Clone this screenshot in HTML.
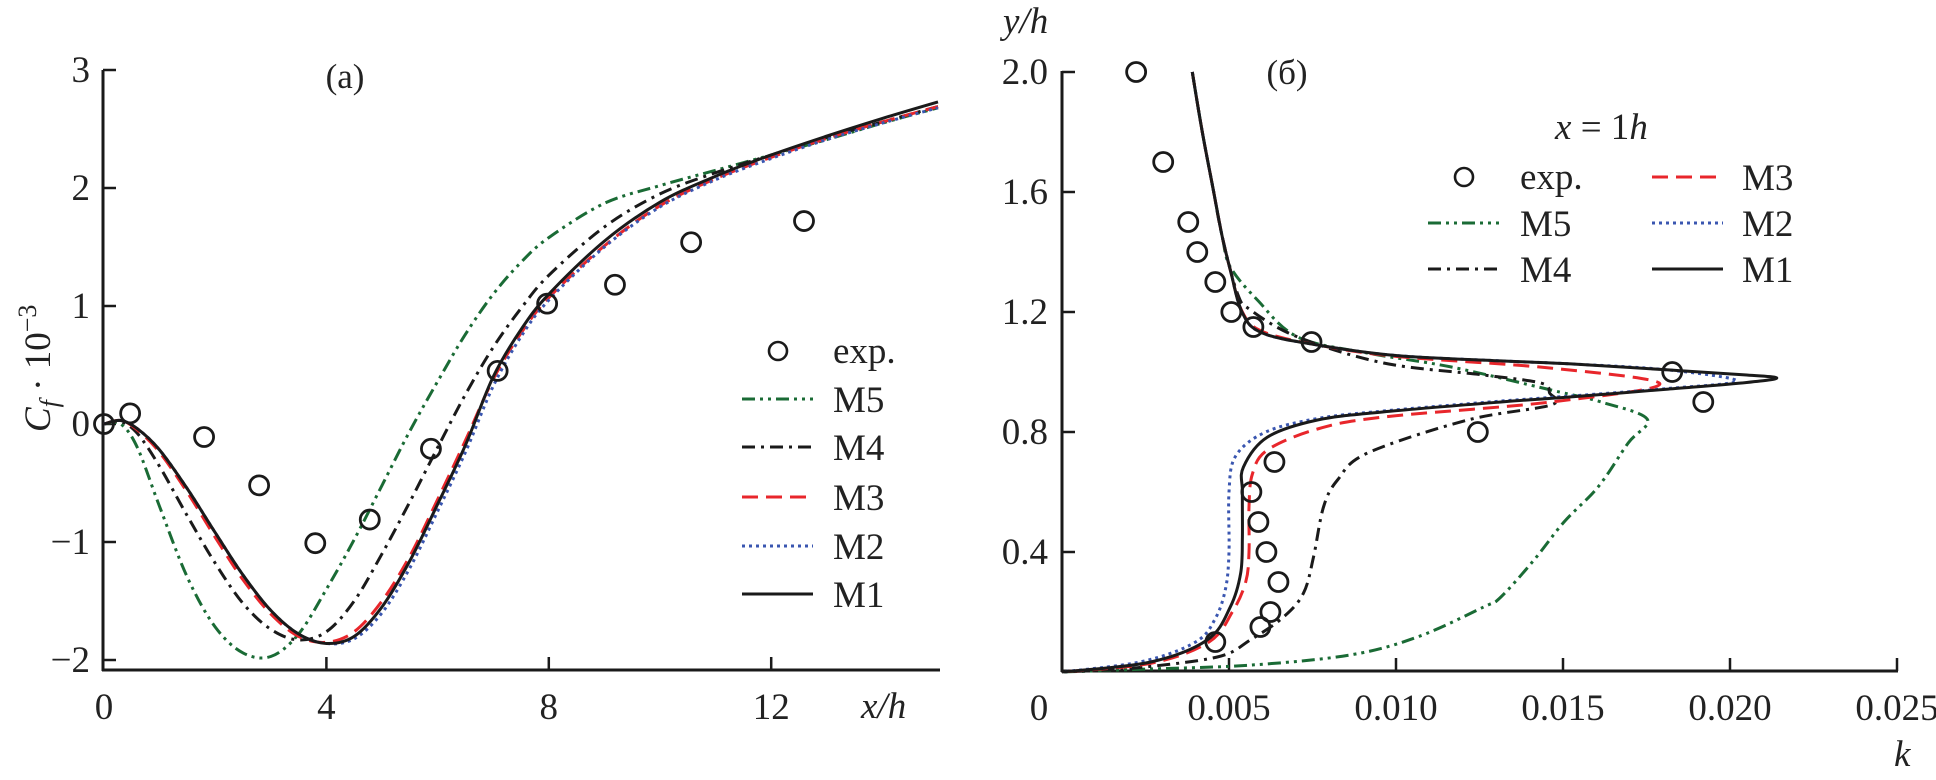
<!DOCTYPE html>
<html><head><meta charset="utf-8"><style>
body{margin:0;background:#fff;}
svg{display:block;font-family:"Liberation Serif",serif;}
text{fill:#222;}
</style></head><body>
<svg id="fig" width="1936" height="780" viewBox="0 0 1936 780">
<g id="left"></g>
<g id="right"></g>
</svg>
<script>
// ---- Left chart data ----
const leftX = [0,0.3,0.6,1,1.5,2,2.5,3,3.5,4,4.5,5,5.5,6,6.5,7,7.5,8,9,10,11,12,13,14,15];
const leftM1 = [0,0.03,-0.04,-0.22,-0.55,-0.92,-1.28,-1.58,-1.78,-1.86,-1.8,-1.55,-1.16,-0.68,-0.18,0.4,0.8,1.1,1.55,1.88,2.1,2.28,2.44,2.59,2.73];
const leftM2 = [0,0.03,-0.04,-0.22,-0.55,-0.92,-1.28,-1.58,-1.78,-1.86,-1.82,-1.6,-1.22,-0.74,-0.24,0.32,0.74,1.05,1.5,1.84,2.07,2.25,2.41,2.55,2.68];
const leftM3 = [0,0.03,-0.05,-0.24,-0.58,-0.96,-1.32,-1.61,-1.8,-1.85,-1.76,-1.5,-1.12,-0.64,-0.14,0.38,0.77,1.07,1.51,1.85,2.08,2.26,2.42,2.56,2.69];
const leftM4 = [0,0.02,-0.08,-0.36,-0.78,-1.18,-1.52,-1.74,-1.83,-1.76,-1.5,-1.1,-0.66,-0.2,0.25,0.65,0.98,1.26,1.67,1.95,2.13,2.28,2.43,2.56,2.69];
const leftM5 = [0,0.0,-0.2,-0.7,-1.3,-1.72,-1.94,-1.97,-1.78,-1.4,-0.98,-0.52,-0.06,0.36,0.76,1.1,1.37,1.58,1.87,2.02,2.15,2.28,2.41,2.55,2.68];
const leftExpX = [0,0.47,1.8,2.79,3.8,4.78,5.88,7.08,7.97,9.19,10.56,12.59];
const leftExpY = [0,0.09,-0.11,-0.52,-1.01,-0.81,-0.21,0.45,1.02,1.18,1.54,1.72];
const leftXTicks = [0,4,8,12];
const leftYTicks = [-2,-1,0,1,2,3];
const leftYTickLabels = ["\u22122","\u22121","0","1","2","3"];

// ---- Right chart data ----
const m1K = [0.0039,0.0042,0.00453,0.0048,0.00504,0.0054,0.006,0.00765,0.01,0.01314,0.01524,0.01815,0.0205,0.0214,0.0205,0.01815,0.01524,0.01314,0.00963,0.00765,0.00615,0.00543,0.0054,0.0054,0.00535,0.00504,0.00435,0.00264,0.0];
const m1Y = [2.0,1.8,1.607,1.45,1.34,1.197,1.13,1.09,1.055,1.037,1.027,1.007,0.99,0.98,0.965,0.943,0.917,0.9,0.867,0.84,0.783,0.683,0.6,0.45,0.33,0.217,0.107,0.033,0.0];
const m2K = [0.0039,0.0042,0.00453,0.0048,0.00504,0.0054,0.006,0.00765,0.01,0.01314,0.01524,0.01815,0.0202,0.01815,0.01524,0.01314,0.00963,0.00765,0.0061,0.0052,0.0050,0.0050,0.0049,0.0046,0.004,0.0024,0.0];
const m2Y = [2.0,1.8,1.607,1.45,1.34,1.197,1.13,1.09,1.055,1.037,1.027,1.007,0.97,0.945,0.92,0.903,0.87,0.845,0.8,0.72,0.6,0.4,0.28,0.18,0.1,0.035,0.0];
const m3K = [0.0039,0.0042,0.00453,0.0048,0.00504,0.0054,0.006,0.00765,0.01,0.01464,0.0179,0.01464,0.00963,0.00765,0.00615,0.0057,0.0056,0.0056,0.0055,0.0051,0.0044,0.0027,0.0];
const m3Y = [2.0,1.8,1.607,1.45,1.34,1.2,1.135,1.09,1.052,1.013,0.96,0.9,0.85,0.81,0.74,0.66,0.55,0.4,0.3,0.2,0.1,0.03,0.0];
const m4K = [0.0039,0.0042,0.00453,0.0048,0.00525,0.00564,0.00705,0.00963,0.01263,0.01434,0.0146,0.01464,0.01215,0.00915,0.00825,0.00783,0.00753,0.00723,0.00663,0.00564,0.00465,0.00213,0.0];
const m4Y = [2.0,1.8,1.607,1.45,1.263,1.207,1.117,1.03,0.99,0.963,0.93,0.89,0.84,0.73,0.64,0.55,0.383,0.263,0.183,0.107,0.05,0.013,0.0];
const m5K = [0.0039,0.0042,0.00453,0.0048,0.00504,0.00585,0.00705,0.00915,0.01164,0.01464,0.01614,0.01752,0.01695,0.01605,0.01503,0.01413,0.01314,0.01263,0.01065,0.00864,0.00564,0.0026,0.0];
const m5Y = [2.0,1.8,1.607,1.45,1.35,1.24,1.117,1.063,1.017,0.94,0.9,0.843,0.763,0.617,0.5,0.373,0.25,0.217,0.117,0.057,0.023,0.01,0.0];
const rightExpK = [0.00222,0.00303,0.00378,0.00405,0.00459,0.00507,0.00573,0.00747,0.01827,0.0192,0.01245,0.00636,0.00567,0.00588,0.00612,0.00648,0.00624,0.00594,0.00459];
const rightExpY = [2.0,1.7,1.5,1.4,1.3,1.2,1.15,1.1,1.0,0.9,0.8,0.7,0.6,0.5,0.4,0.3,0.2,0.15,0.1];
const rightKTicks = [0,0.005,0.010,0.015,0.020,0.025];
const rightKTickLabels = ["0","0.005","0.010","0.015","0.020","0.025"];
const rightYTicks = [0.4,0.8,1.2,1.6,2.0];
const rightYTickLabels = ["0.4","0.8","1.2","1.6","2.0"];

const NS = "http://www.w3.org/2000/svg";
function mk(parent, tag, attrs, txt){
  const e = document.createElementNS(NS, tag);
  for (const k in attrs) e.setAttribute(k, attrs[k]);
  if (txt !== undefined) e.textContent = txt;
  parent.appendChild(e);
  return e;
}
function smoothPath(pts){
  let d = "M" + pts[0][0].toFixed(1) + "," + pts[0][1].toFixed(1);
  for (let i=0;i<pts.length-1;i++){
    const p0 = pts[i-1]||pts[i], p1=pts[i], p2=pts[i+1], p3=pts[i+2]||pts[i+1];
    const c1x = p1[0]+(p2[0]-p0[0])/6, c1y = p1[1]+(p2[1]-p0[1])/6;
    const c2x = p2[0]-(p3[0]-p1[0])/6, c2y = p2[1]-(p3[1]-p1[1])/6;
    d += " C"+c1x.toFixed(1)+","+c1y.toFixed(1)+" "+c2x.toFixed(1)+","+c2y.toFixed(1)+" "+p2[0].toFixed(1)+","+p2[1].toFixed(1);
  }
  return d;
}
const styles = {
  M1:{stroke:"#1a1a1a",dash:""},
  M2:{stroke:"#3a56b0",dash:"3,4"},
  M3:{stroke:"#e8262b",dash:"16,8"},
  M4:{stroke:"#1a1a1a",dash:"13,6,3,6"},
  M5:{stroke:"#1a6b35",dash:"13,5,3,5,3,5"}
};

// ---- Left axes ----
const L = document.getElementById('left');
const lx = v => 104 + 55.6*v;
const ly = v => 424 - 118*v;
let e;
e = mk(L,'line',{x1:103,y1:70,x2:103,y2:671,stroke:'#1a1a1a','stroke-width':3});
 
e = mk(L,'line',{x1:102,y1:670,x2:940,y2:670,stroke:'#1a1a1a','stroke-width':3});
 
leftYTicks.forEach((t,i)=>{
  e = mk(L,'line',{x1:103,y1:ly(t),x2:116,y2:ly(t),stroke:'#1a1a1a','stroke-width':2.5});
   
  e = mk(L,'text',{x:90,y:ly(t)+12,'font-size':37,'text-anchor':'end'},leftYTickLabels[i]);
   
});
leftXTicks.forEach(t=>{
  if (t>0){
    e = mk(L,'line',{x1:lx(t),y1:670,x2:lx(t),y2:657,stroke:'#1a1a1a','stroke-width':2.5});
     
  }
  e = mk(L,'text',{x:lx(t),y:719,'font-size':37,'text-anchor':'middle'},String(t));
   
});
e = mk(L,'text',{x:861,y:718,'font-size':37,'font-style':'italic'},'x/h');
 
e = mk(L,'text',{x:345,y:88,'font-size':35,'text-anchor':'middle'},'(a)');
 
e = mk(L,'text',{x:0,y:0,'font-size':37,transform:'translate(50,432) rotate(-90)'});
 
e.innerHTML = '<tspan font-style="italic">C</tspan><tspan font-style="italic" font-size="26" dy="8">f</tspan><tspan dy="-8"> · 10</tspan><tspan font-size="26" dy="-14">\u22123</tspan>';

const leftSeries = [["M5",leftM5],["M4",leftM4],["M3",leftM3],["M2",leftM2],["M1",leftM1]];
leftSeries.forEach(([n,vals])=>{
  const pts = leftX.map((x,i)=>[lx(x),ly(vals[i])]);
  e = mk(L,'path',{d:smoothPath(pts),fill:'none',stroke:styles[n].stroke,'stroke-width':3,'stroke-dasharray':styles[n].dash});
   
});
leftExpX.forEach((x,i)=>{
  e = mk(L,'circle',{cx:lx(x),cy:ly(leftExpY[i]),r:9.5,fill:'none',stroke:'#1a1a1a','stroke-width':2.8});
   
});
// left legend
e = mk(L,'circle',{cx:778,cy:351,r:9,fill:'none',stroke:'#1a1a1a','stroke-width':2.6});
 
e = mk(L,'text',{x:833,y:363,'font-size':37},'exp.');
 
[["M5",399],["M4",447],["M3",497],["M2",546],["M1",594]].forEach(([n,y])=>{
  e = mk(L,'line',{x1:742,y1:y,x2:813,y2:y,stroke:styles[n].stroke,'stroke-width':3,'stroke-dasharray':styles[n].dash});
   
  e = mk(L,'text',{x:833,y:y+13,'font-size':37},n);
   
});

// ---- Right axes ----
const R = document.getElementById('right');
const rx = v => 1062 + 33400*v;
const ry = v => 672 - 300*v;
e = mk(R,'line',{x1:1062,y1:71,x2:1062,y2:672,stroke:'#1a1a1a','stroke-width':3});
 
e = mk(R,'line',{x1:1061,y1:671,x2:1898,y2:671,stroke:'#1a1a1a','stroke-width':3});
 
rightYTicks.forEach((t,i)=>{
  e = mk(R,'line',{x1:1062,y1:ry(t),x2:1075,y2:ry(t),stroke:'#1a1a1a','stroke-width':2.5});
   
  e = mk(R,'text',{x:1048,y:ry(t)+12,'font-size':37,'text-anchor':'end'},rightYTickLabels[i]);
   
});
rightKTicks.forEach((t,i)=>{
  if (t>0){
    e = mk(R,'line',{x1:rx(t),y1:671,x2:rx(t),y2:658,stroke:'#1a1a1a','stroke-width':2.5});
     
  }
  e = mk(R,'text',{x:i===0?1039:rx(t),y:720,'font-size':37,'text-anchor':'middle'},rightKTickLabels[i]);
   
});
e = mk(R,'text',{x:1894,y:766,'font-size':37,'font-style':'italic'},'k');
 
e = mk(R,'text',{x:1003,y:33,'font-size':37,'font-style':'italic'},'y/h');
 
e = mk(R,'text',{x:1287,y:84,'font-size':35,'text-anchor':'middle'},'(б)');
 
e = mk(R,'text',{x:1555,y:139,'font-size':37});
 
e.innerHTML = '<tspan font-style="italic">x</tspan> = 1<tspan font-style="italic">h</tspan>';

const rightSeries = [["M5",m5K,m5Y],["M4",m4K,m4Y],["M3",m3K,m3Y],["M2",m2K,m2Y],["M1",m1K,m1Y]];
rightSeries.forEach(([n,ks,ys])=>{
  const pts = ks.map((k,i)=>[rx(k),ry(ys[i])]);
  e = mk(R,'path',{d:smoothPath(pts),fill:'none',stroke:styles[n].stroke,'stroke-width':3,'stroke-dasharray':styles[n].dash});
   
});
rightExpK.forEach((k,i)=>{
  e = mk(R,'circle',{cx:rx(k),cy:ry(rightExpY[i]),r:9.5,fill:'none',stroke:'#1a1a1a','stroke-width':2.8});
   
});
// right legend
e = mk(R,'circle',{cx:1464,cy:177,r:9,fill:'none',stroke:'#1a1a1a','stroke-width':2.6});
 
e = mk(R,'text',{x:1520,y:189,'font-size':37},'exp.');
 
[["M5",1428,1499,1520,223],["M4",1428,1499,1520,269],["M3",1652,1723,1742,177],["M2",1652,1723,1742,223],["M1",1652,1723,1742,269]].forEach(([n,x1,x2,tx,y])=>{
  e = mk(R,'line',{x1:x1,y1:y,x2:x2,y2:y,stroke:styles[n].stroke,'stroke-width':3,'stroke-dasharray':styles[n].dash});
   
  e = mk(R,'text',{x:tx,y:y+13,'font-size':37},n);
   
});
</script>
</body></html>
